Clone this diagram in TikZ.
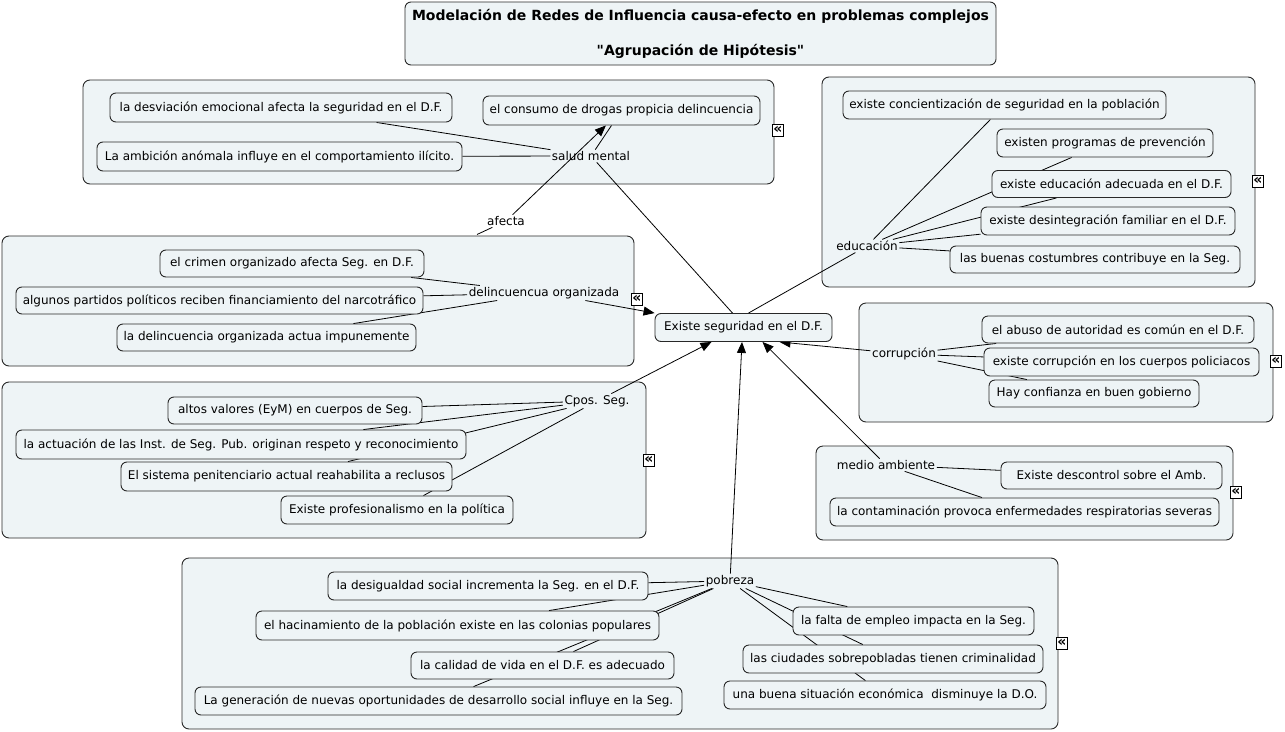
\documentclass[tikz,border=0pt]{standalone}
\usepackage{fontspec}
\setmainfont{DejaVu Sans}
\newfontfamily\qfont{DejaVu Sans}[Ligatures=TeXOff]
\usetikzlibrary{arrows.meta}
\pgfdeclarelayer{grp}
\pgfdeclarelayer{lnk}
\pgfsetlayers{grp,lnk,main}
\definecolor{cfill}{RGB}{238,244,246}
\definecolor{cline}{RGB}{40,40,40}
\newcommand{\sq}{{\qfont\bfseries "}}
\begin{document}
\begin{tikzpicture}[x=1pt,y=-1pt,
  every node/.style={font=\fontsize{12}{14}\selectfont},
  hyp/.style={draw=cline, line width=0.9pt, rounded corners=6pt, fill=cfill, inner xsep=2pt, inner ysep=1pt},
  concept/.style={inner sep=1.5pt},
  grpbox/.style={draw=cline, line width=0.9pt, rounded corners=7pt, fill=cfill},
  lnk/.style={draw=black, line width=0.8pt},
  arr/.style={lnk, -{Triangle[length=11pt,width=9pt]}},
  icon/.style={draw=black, line width=0.9pt, fill=white, minimum width=11pt, minimum height=12pt, inner sep=0pt, font=\bfseries\fontsize{14}{14}\selectfont}
]
\useasboundingbox (0,0) rectangle (1285,731);

% groups
\begin{pgfonlayer}{grp}
\draw[grpbox] (83,80) rectangle (774,184);
\draw[grpbox] (822,77) rectangle (1255,287);
\draw[grpbox] (2,236) rectangle (634,366);
\draw[grpbox] (2,382) rectangle (646,538);
\draw[grpbox] (859,303) rectangle (1273,422);
\draw[grpbox] (816,446) rectangle (1233,540);
\draw[grpbox] (182,558) rectangle (1058,729);
\end{pgfonlayer}

% title
\node[hyp, minimum width=591pt, minimum height=63pt, align=center, font=\bfseries\fontsize{14}{35}\selectfont] (title) at (700.5,33.5)
 {Modelación de Redes de Influencia causa-efecto en problemas complejos\\\sq Agrupación de Hipótesis\sq};

% central
\node[hyp, minimum width=177pt, minimum height=28pt] (central) at (743.5,327.5) {Existe seguridad en el D.F.};

% concept labels
\node[concept] (salud) at (591,156) {salud mental};
\node[concept] (afecta) at (506,221) {afecta};
\node[concept] (educ) at (867,246) {educación};
\node[concept] (delinc) at (544,293) {delincuencua organizada};
\node[concept] (cpos) at (597,401) {Cpos. Seg.};
\node[concept] (corr) at (904,354) {corrupción};
\node[concept] (medio) at (886,465) {medio ambiente};
\node[concept] (pobreza) at (730,581) {pobreza};

% salud mental group
\node[hyp, minimum width=342pt, minimum height=29pt] (desv) at (281,107.5) {la desviación emocional afecta la seguridad en el D.F.};
\node[hyp, minimum width=277pt, minimum height=29pt] (consumo) at (621.5,110.5) {el consumo de drogas propicia delincuencia};
\node[hyp, minimum width=365pt, minimum height=29pt] (ambic) at (279.5,156.5) {La ambición anómala influye en el comportamiento ilícito.};

% educacion group
\node[hyp, minimum width=323pt, minimum height=28pt] (conc) at (1004.5,105) {existe concientización de seguridad en la población};
\node[hyp, minimum width=216pt, minimum height=28pt] (prog) at (1105,143) {existen programas de prevención};
\node[hyp, minimum width=239pt, minimum height=27pt] (adec) at (1111.5,184) {existe educación adecuada en el D.F.};
\node[hyp, minimum width=254pt, minimum height=28pt] (desint) at (1108,221) {existe desintegración familiar en el D.F.};
\node[hyp, minimum width=290pt, minimum height=27pt] (buenas) at (1095,259.5) {las buenas costumbres contribuye en la Seg.};

% delincuencia group
\node[hyp, minimum width=264pt, minimum height=27pt] (crimen) at (292,263.5) {el crimen organizado afecta Seg. en D.F.};
\node[hyp, minimum width=407pt, minimum height=27pt] (partidos) at (219.5,300.5) {algunos partidos políticos reciben financiamiento del narcotráfico};
\node[hyp, minimum width=299pt, minimum height=27pt] (impune) at (266.5,337.5) {la delincuencia organizada actua impunemente};

% cpos group
\node[hyp, minimum width=254pt, minimum height=27pt] (altos) at (295,410.5) {altos valores (EyM) en cuerpos de Seg.};
\node[hyp, minimum width=450pt, minimum height=29pt] (actuac) at (241,444.5) {la actuación de las Inst. de Seg. Pub. originan respeto y reconocimiento};
\node[hyp, minimum width=331pt, minimum height=29pt] (sistema) at (286.5,476.5) {El sistema penitenciario actual reahabilita a reclusos};
\node[hyp, minimum width=232pt, minimum height=28pt] (profes) at (397,510) {Existe profesionalismo en la política};

% corrupcion group
\node[hyp, minimum width=272pt, minimum height=27pt] (abuso) at (1118,329.5) {el abuso de autoridad es común en el D.F.};
\node[hyp, minimum width=275pt, minimum height=28pt] (corrcp) at (1121.5,362) {existe corrupción en los cuerpos policiacos};
\node[hyp, minimum width=210pt, minimum height=27pt] (hay) at (1094,393.5) {Hay confianza en buen gobierno};

% medio ambiente group
\node[hyp, minimum width=221pt, minimum height=27pt] (descon) at (1111.5,475.5) {Existe descontrol sobre el Amb.};
\node[hyp, minimum width=389pt, minimum height=28pt] (contam) at (1024.5,512) {la contaminación provoca enfermedades respiratorias severas};

% pobreza group
\node[hyp, minimum width=320pt, minimum height=28pt] (desig) at (488,586) {la desigualdad social incrementa la Seg. en el D.F.};
\node[hyp, minimum width=403pt, minimum height=29pt] (hacin) at (457.5,625.5) {el hacinamiento de la población existe en las colonias populares};
\node[hyp, minimum width=263pt, minimum height=27pt] (calid) at (542.5,665.5) {la calidad de vida en el D.F. es adecuado};
\node[hyp, minimum width=487pt, minimum height=28pt] (gener) at (438.5,701) {La generación de nuevas oportunidades de desarrollo social influye en la Seg.};
\node[hyp, minimum width=241pt, minimum height=28pt] (falta) at (913.5,621) {la falta de empleo impacta en la Seg.};
\node[hyp, minimum width=300pt, minimum height=28pt] (ciud) at (893,659) {las ciudades sobrepobladas tienen criminalidad};
\node[hyp, minimum width=322pt, minimum height=28pt] (buena) at (885,695) {una buena situación económica~ disminuye la D.O.};

% icons
\node[icon] (ic1) at (778,130) {«};
\node[icon] (ic2) at (1258,181) {«};
\node[icon] (ic3) at (637,299) {«};
\node[icon] (ic4) at (649,460) {«};
\node[icon] (ic5) at (1276,361) {«};
\node[icon] (ic6) at (1236,492) {«};
\node[icon] (ic7) at (1062,643) {«};

\coordinate (afsrc) at (477,234.5);

% links
\begin{pgfonlayer}{lnk}
\draw[lnk] (salud) -- (desv);
\draw[lnk] (salud) -- (ambic);
\draw[lnk] (salud) -- (consumo);
\draw[lnk] (afsrc) -- (afecta);
\draw[arr] (afecta) -- (consumo);
\draw[lnk] (salud) -- ([xshift=-11pt]central.north);

\draw[lnk] (educ) -- (conc);
\draw[lnk] (educ) -- (prog);
\draw[lnk] (educ) -- (adec);
\draw[lnk] (educ) -- (desint);
\draw[lnk] (educ) -- (buenas);
\draw[lnk] (educ) -- ([xshift=5pt]central.north);

\draw[lnk] (delinc) -- (crimen);
\draw[lnk] (delinc) -- (partidos);
\draw[lnk] (delinc) -- (impune);
\draw[arr] (delinc) -- (central.north west);

\draw[lnk] (cpos) -- (altos);
\draw[lnk] (cpos) -- (actuac);
\draw[lnk] (cpos) -- (sistema);
\draw[lnk] (cpos) -- (profes);
\draw[arr] (cpos) -- ([xshift=-32pt]central.south);

\draw[lnk] (corr) -- (abuso);
\draw[lnk] (corr) -- (corrcp);
\draw[lnk] (corr) -- (hay);
\draw[arr] (corr) -- ([xshift=36pt]central.south);

\draw[lnk] (medio) -- (descon);
\draw[lnk] (medio) -- (contam);
\draw[arr] (medio) -- ([xshift=19pt]central.south);

\draw[lnk] (pobreza) -- (desig);
\draw[lnk] (pobreza) -- (hacin);
\draw[lnk] (pobreza) -- (calid);
\draw[lnk] (pobreza) -- (gener);
\draw[lnk] (pobreza) -- (falta);
\draw[lnk] (pobreza) -- (ciud);
\draw[lnk] (pobreza) -- (buena);
\draw[arr] (pobreza) -- ([xshift=-1.5pt]central.south);
\end{pgfonlayer}
\end{tikzpicture}
\end{document}
